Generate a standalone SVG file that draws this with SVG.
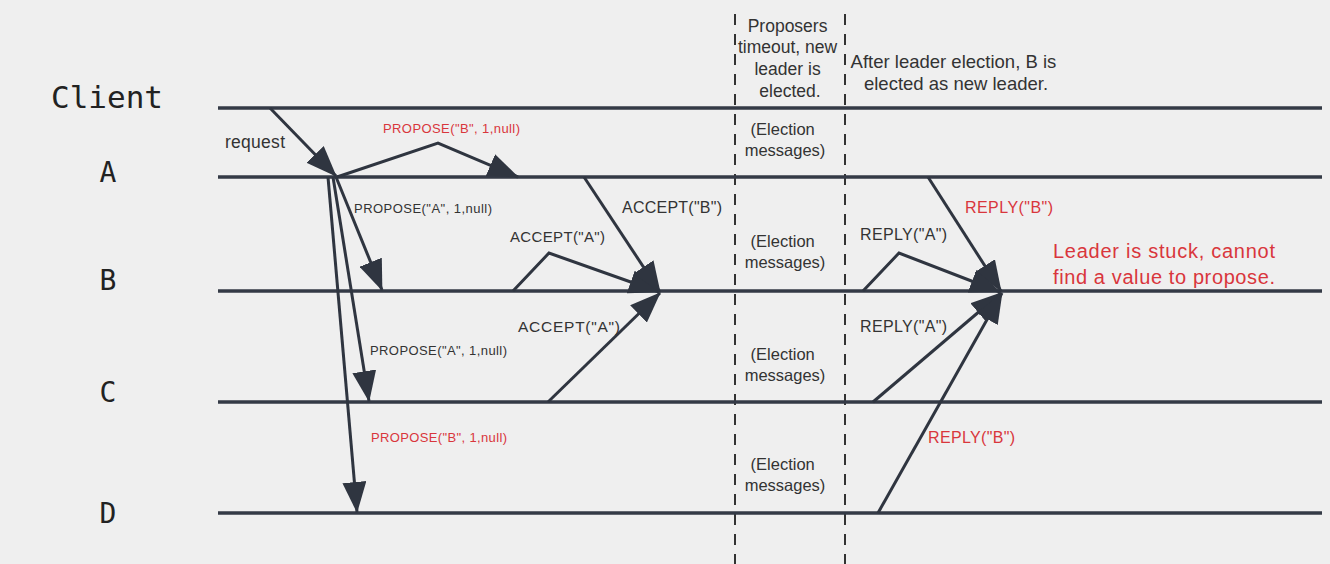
<svg xmlns="http://www.w3.org/2000/svg" width="1330" height="564" viewBox="0 0 1330 564">
  <style>
    .bg { fill: #efefef; }
    .life { stroke: #343a46; stroke-width: 3.5; fill: none; }
    .name { font-family: "DejaVu Sans Mono", "Liberation Mono", monospace; fill: #222; text-anchor: middle; }
    .msg { stroke: #2f3540; stroke-width: 3; fill: none; marker-end: url(#head); }
    .lbl { font-family: "Liberation Sans", Arial, sans-serif; fill: #333; }
    .red { fill: #d9363c; }
    .dash { stroke: #333; stroke-width: 2; stroke-dasharray: 11 9; fill: none; }
    .note { font-family: "Liberation Sans", Arial, sans-serif; fill: #333; text-anchor: middle; }
  </style>
  <defs>
    <marker id="head" markerUnits="userSpaceOnUse" markerWidth="31" markerHeight="24" refX="30" refY="12" orient="auto">
      <path d="M0,0 L31,12 L0,24 Z" fill="#2f3540"/>
    </marker>
  </defs>
  <rect class="bg" x="0" y="0" width="1330" height="564"/>

  <g id="phase-dividers">
    <line class="dash" x1="735" y1="14" x2="735" y2="564"/>
    <line class="dash" x1="845" y1="14" x2="845" y2="564"/>
  </g>

  <g id="node-client">
    <text class="name" x="107" y="108" font-size="31">Client</text>
    <line class="life" x1="218" y1="108" x2="1322" y2="108" stroke-width="4.5"/>
  </g>
  <g id="node-a">
    <text class="name" x="108" y="182" font-size="28">A</text>
    <line class="life" x1="218" y1="177" x2="1322" y2="177"/>
  </g>
  <g id="node-b">
    <text class="name" x="108" y="290" font-size="28">B</text>
    <line class="life" x1="218" y1="291" x2="1322" y2="291"/>
  </g>
  <g id="node-c">
    <text class="name" x="108" y="402" font-size="28">C</text>
    <line class="life" x1="218" y1="402" x2="1322" y2="402"/>
  </g>
  <g id="node-d">
    <text class="name" x="108" y="523" font-size="28">D</text>
    <line class="life" x1="218" y1="513" x2="1322" y2="513"/>
  </g>

  <g id="connectors">
    <line class="msg" x1="270" y1="108" x2="336" y2="176"/>
    <polyline class="msg" points="337,177 438,143 518,177"/>
    <line class="msg" x1="336" y1="177" x2="382" y2="290"/>
    <line class="msg" x1="333" y1="177" x2="369" y2="401"/>
    <line class="msg" x1="328" y1="177" x2="357" y2="512"/>
    <polyline class="msg" points="513,291 549,253 659,292"/>
    <line class="msg" x1="584" y1="177" x2="660" y2="292"/>
    <line class="msg" x1="548" y1="402" x2="660" y2="293"/>
    <line class="msg" x1="928" y1="177" x2="1001" y2="291"/>
    <polyline class="msg" points="863,291 899,253 1000,292"/>
    <line class="msg" x1="873" y1="402" x2="1001" y2="293"/>
    <line class="msg" x1="878" y1="513" x2="1002" y2="293"/>
  </g>

  <g id="message-labels">
    <text class="lbl" x="225" y="148" font-size="17.5" textLength="60">request</text>
    <text class="lbl red" x="383" y="133" font-size="13" textLength="137">PROPOSE("B", 1,null)</text>
    <text class="lbl" x="354" y="213" font-size="13" textLength="138">PROPOSE("A", 1,null)</text>
    <text class="lbl" x="370" y="355" font-size="13" textLength="137">PROPOSE("A", 1,null)</text>
    <text class="lbl red" x="371" y="442" font-size="13" textLength="136">PROPOSE("B", 1,null)</text>
    <text class="lbl" x="510" y="242" font-size="15" textLength="95">ACCEPT("A")</text>
    <text class="lbl" x="622" y="213" font-size="16" textLength="100">ACCEPT("B")</text>
    <text class="lbl" x="518" y="332" font-size="15.5" textLength="102">ACCEPT("A")</text>
    <text class="lbl" x="860" y="240" font-size="16" textLength="87">REPLY("A")</text>
    <text class="lbl red" x="965" y="213" font-size="16" textLength="88">REPLY("B")</text>
    <text class="lbl" x="860" y="332" font-size="16" textLength="87">REPLY("A")</text>
    <text class="lbl red" x="928" y="443" font-size="16" textLength="87">REPLY("B")</text>
  </g>

  <g id="annotations">
    <text class="note" font-size="17.5">
      <tspan x="790" y="32">Proposers</tspan>
      <tspan x="790" y="53">timeout, new</tspan>
      <tspan x="790" y="75">leader is</tspan>
      <tspan x="790" y="97">elected.</tspan>
    </text>
    <text class="note" font-size="18.5">
      <tspan x="956" y="68">After leader election, B is</tspan>
      <tspan x="956" y="90">elected as new leader.</tspan>
    </text>
    <text class="note" font-size="16.5">
      <tspan x="785" y="135">(Election</tspan>
      <tspan x="785" y="156">messages)</tspan>
    </text>
    <text class="note" font-size="16.5">
      <tspan x="785" y="247">(Election</tspan>
      <tspan x="785" y="268">messages)</tspan>
    </text>
    <text class="note" font-size="16.5">
      <tspan x="785" y="360">(Election</tspan>
      <tspan x="785" y="381">messages)</tspan>
    </text>
    <text class="note" font-size="16.5">
      <tspan x="785" y="470">(Election</tspan>
      <tspan x="785" y="491">messages)</tspan>
    </text>
    <text class="lbl red" font-size="20">
      <tspan x="1053" y="258" textLength="222">Leader is stuck, cannot</tspan>
      <tspan x="1053" y="284" textLength="222">find a value to propose.</tspan>
    </text>
  </g>
</svg>
